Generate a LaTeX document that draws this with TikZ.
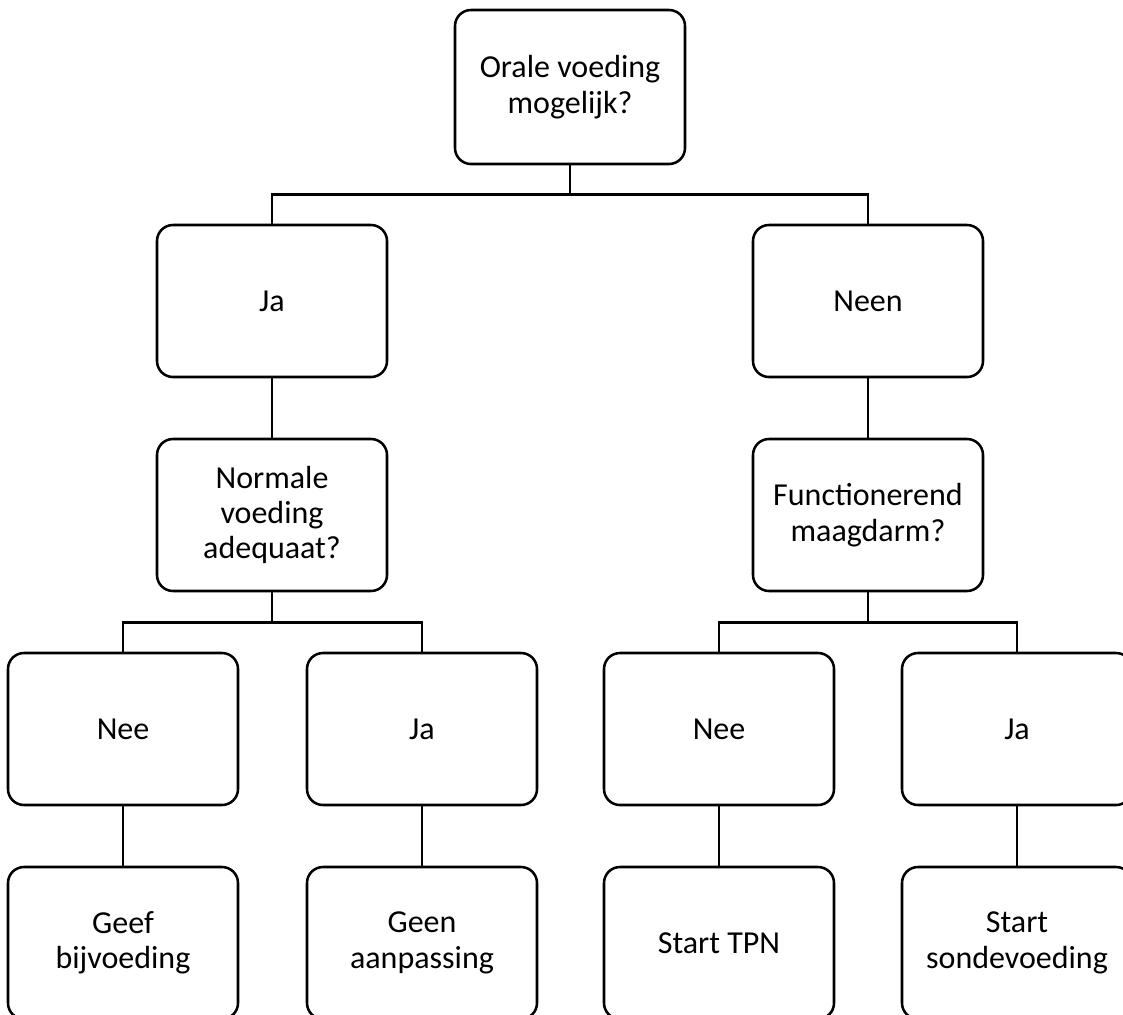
\documentclass[tikz,border=0pt]{standalone}
\usepackage{fontspec}
\setmainfont{Carlito}
\begin{document}
\begin{tikzpicture}[x=0.75pt,y=-0.75pt,
  box/.style={draw=black, line width=1.9pt, fill=white, rounded corners=12pt,
    minimum width=172.5pt, minimum height=114pt, inner sep=0pt, align=center,
    font=\fontsize{24}{26.5}\selectfont},
  conn/.style={draw=black, line width=1.9pt}]
\useasboundingbox (0,0) rectangle (1123,1014);
\node[box, minimum height=115.5pt] (top) at (570,87) {Orale voeding\\mogelijk?};
\node[box] (ja1) at (272,301) {Ja};
\node[box] (neen) at (868,301) {Neen};
\node[box] (norm) at (272,515) {Normale\\voeding\\adequaat?};
\node[box] (func) at (868,515) {Functionerend\\maagdarm?};
\node[box] (nee2) at (123,729) {Nee};
\node[box] (ja2) at (422,729) {Ja};
\node[box] (nee3) at (719,729) {Nee};
\node[box] (ja3) at (1017,729) {Ja};
\node[box] (geef) at (123,943) {Geef\\bijvoeding};
\node[box] (geen) at (422,943) {Geen\\aanpassing};
\node[box] (tpn) at (719,943) {Start TPN};
\node[box] (sonde) at (1017,943) {Start\\sondevoeding};
\draw[conn] (top.south) -- ++(0,29) -| (ja1.north);
\draw[conn] (top.south) -- ++(0,29) -| (neen.north);
\draw[conn] (ja1) -- (norm);
\draw[conn] (neen) -- (func);
\draw[conn] (norm.south) -- ++(0,30) -| (nee2.north);
\draw[conn] (norm.south) -- ++(0,30) -| (ja2.north);
\draw[conn] (func.south) -- ++(0,30) -| (nee3.north);
\draw[conn] (func.south) -- ++(0,30) -| (ja3.north);
\draw[conn] (nee2) -- (geef);
\draw[conn] (ja2) -- (geen);
\draw[conn] (nee3) -- (tpn);
\draw[conn] (ja3) -- (sonde);
\end{tikzpicture}
\end{document}
